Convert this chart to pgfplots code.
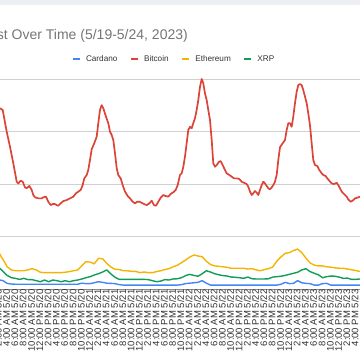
\documentclass[border=0pt]{standalone}
\usepackage{pgfplots}
\pgfplotsset{compat=1.18}
\usepackage{fontspec}
\setmainfont{Liberation Sans}
\definecolor{gblue}{HTML}{4285F4}
\definecolor{gred}{HTML}{DB4437}
\definecolor{gyellow}{HTML}{F4B400}
\definecolor{ggreen}{HTML}{0F9D58}
\definecolor{titlegray}{HTML}{757575}
\definecolor{textgray}{HTML}{333333}
\definecolor{gridgray}{HTML}{D0D0D0}
\definecolor{basegray}{HTML}{8A8A8A}
\definecolor{bandgray}{HTML}{ECEFF4}
\begin{document}
\begin{tikzpicture}
\begin{scope}
\clip (0pt,0pt) rectangle (360pt,360pt);
\fill[bandgray] (0pt,355pt) rectangle (360pt,360pt);
\node[anchor=base east, text=titlegray, font=\fontsize{14}{16}\selectfont, inner sep=0pt] at (188pt,320pt) {Interest Over Time (5/19-5/24, 2023)};
\begin{axis}[
  at={(-5.3pt,70.5pt)}, anchor=south west, scale only axis,
  width=373.5pt, height=210.5pt,
  xmin=2, xmax=92, ymin=0, ymax=100,
  axis x line*=bottom, axis y line*=left,
  x axis line style={basegray, line width=1.3pt},
  y axis line style={draw=none},
  ymajorgrids, ytick={25,50,75,100}, yticklabels={},
  grid style={gridgray, line width=0.8pt},
  major tick length=0pt,
  xtick={2,4,...,92},
  xticklabels={2:00 AM 5/20,4:00 AM 5/20,6:00 AM 5/20,8:00 AM 5/20,10:00 AM 5/20,12:00 PM 5/20,2:00 PM 5/20,4:00 PM 5/20,6:00 PM 5/20,8:00 PM 5/20,10:00 PM 5/20,
  12:00 AM 5/21,2:00 AM 5/21,4:00 AM 5/21,6:00 AM 5/21,8:00 AM 5/21,10:00 AM 5/21,12:00 PM 5/21,2:00 PM 5/21,4:00 PM 5/21,6:00 PM 5/21,8:00 PM 5/21,10:00 PM 5/21,
  12:00 AM 5/22,2:00 AM 5/22,4:00 AM 5/22,6:00 AM 5/22,8:00 AM 5/22,10:00 AM 5/22,12:00 PM 5/22,2:00 PM 5/22,4:00 PM 5/22,6:00 PM 5/22,8:00 PM 5/22,10:00 PM 5/22,
  12:00 AM 5/23,2:00 AM 5/23,4:00 AM 5/23,6:00 AM 5/23,8:00 AM 5/23,10:00 AM 5/23,12:00 PM 5/23,2:00 PM 5/23,4:00 PM 5/23,6:00 PM 5/23,8:00 PM 5/23},
  xticklabel style={rotate=90, anchor=east, inner sep=0pt, yshift=-3.5pt, font=\fontsize{9.5}{10}\selectfont, text=textgray},
  clip=false,
  legend columns=4,
  legend style={at={(0.477,1.095)}, anchor=center, draw=none, fill=none,
    font=\fontsize{8.2}{10}\selectfont, text=textgray,
    /tikz/every odd column/.style={column sep=5pt},
    /tikz/every even column/.style={column sep=12pt},
    nodes={inner sep=0pt}},
  legend image code/.code={\draw[line width=2.6pt] (0pt,0pt) -- (7pt,0pt);},
]
\addplot[gblue, line width=1.4pt, line join=round] coordinates {
(2.5,4.8)(3,4.6)(4,4.2)(5,2.9)(6,2.6)(7,2.5)(8,2.5)(9,2.5)(10,2.5)(11,2.5)(12,2.5)(13,2.5)(14,2.5)(15,2.5)(16,2.5)(17,2.5)(18,2.5)(19,2.5)(20,2.5)(21,2.5)(22,2.5)(23,3.0)(24,2.8)(25,2.8)(26,3.2)(27,3.7)(28,3.4)(29,3.0)(30,2.9)(31,2.8)(32,2.3)(33,2.1)(34,2.1)(35,2.1)(36,2.1)(37,2.1)(38,2.1)(39,2.1)(40,2.1)(41,2.1)(42,2.1)(43,2.1)(44,2.1)(45,2.1)(46,2.1)(47,2.3)(48,2.8)(49,3.0)(50,3.2)(51,3.4)(52,4.2)(53,3.0)(54,2.1)(55,2.1)(56,2.1)(57,2.1)(58,2.1)(59,2.1)(60,2.1)(61,2.1)(62,2.1)(63,2.1)(64,2.1)(65,2.1)(66,2.1)(67,2.1)(68,2.1)(69,2.1)(70,2.1)(71,2.5)(72,3.4)(73,2.8)(74,2.9)(75,4.2)(76,3.2)(77,2.9)(78,2.8)(79,2.1)(80,2.1)(81,2.8)(82,2.9)(83,2.1)(84,2.1)(85,2.1)(86,2.1)(87,2.1)(88,2.1)(89,2.1)(90,2.1)(91,2.1)};
\addlegendentry{Cardano}
\addplot[gred, line width=1.7pt, line join=round] coordinates {
(2.5,84.0)(3.28,86.1)(3.93,85.3)(4.89,75.0)(5.69,67.8)(6.48,60.0)(7.30,51.2)(7.69,50.4)(8.26,51.7)(8.75,51.2)(9.30,48.5)(9.71,48.1)(10.34,49.2)(10.91,47.3)(11.30,44.9)(11.71,43.8)(12.51,43.3)(13.33,43.3)(13.71,43.8)(14.36,44.1)(14.91,41.7)(15.49,40.1)(15.98,40.6)(16.53,40.6)(16.94,40.1)(17.32,39.8)(17.73,40.6)(18.53,42.0)(19.35,42.5)(20.14,43.3)(20.94,44.1)(21.59,45.7)(22.14,46.5)(22.72,47.3)(23.20,49.6)(23.59,52.8)(24.17,54.4)(24.55,56.8)(24.96,61.5)(25.37,66.6)(26.00,69.5)(26.58,72.6)(26.96,79.0)(27.37,85.3)(27.78,87.6)(28.17,86.1)(28.82,82.1)(29.37,79.0)(29.78,75.0)(30.19,73.4)(30.58,71.0)(30.99,64.7)(31.40,57.6)(31.78,54.4)(32.36,52.8)(32.84,49.6)(33.40,46.5)(34.05,44.4)(34.60,43.3)(35.25,41.7)(35.81,40.9)(36.36,41.7)(36.84,41.7)(37.42,41.2)(37.97,40.6)(38.63,40.1)(39.25,40.9)(39.83,42.2)(40.38,40.1)(40.87,39.8)(41.42,41.7)(42.00,43.6)(42.63,44.9)(43.20,44.4)(43.83,44.1)(44.41,45.4)(45.04,46.2)(45.61,47.3)(46.10,49.6)(46.65,54.4)(47.06,55.2)(47.45,58.3)(47.85,63.1)(48.26,69.5)(48.65,75.8)(49.06,77.3)(49.47,76.6)(49.85,79.0)(50.26,81.3)(50.67,85.3)(51.06,90.0)(51.47,96.3)(51.88,100)(52.26,98.0)(52.67,93.2)(53.08,90.0)(53.47,85.3)(53.88,80.5)(54.29,71.0)(54.67,60.0)(55.08,58.3)(55.49,59.1)(56.05,60.7)(56.46,61.0)(56.94,59.1)(57.49,56.8)(57.90,55.2)(58.53,54.4)(59.11,53.6)(59.66,52.8)(60.31,52.8)(60.94,52.5)(61.52,51.2)(62.07,50.7)(62.72,50.1)(63.11,48.8)(63.52,46.5)(63.93,44.9)(64.31,45.7)(64.72,46.8)(65.13,46.0)(65.52,44.9)(65.93,47.3)(66.34,49.6)(66.72,51.2)(67.13,50.4)(67.54,49.2)(67.93,48.1)(68.34,47.6)(68.75,48.5)(69.13,49.6)(69.54,51.2)(69.95,54.4)(70.34,61.5)(70.75,67.6)(71.40,69.5)(71.95,71.0)(72.36,75.8)(72.75,79.0)(73.15,79.0)(73.56,77.3)(73.95,82.1)(74.36,88.5)(74.77,94.0)(75.15,97.1)(75.56,97.6)(75.97,97.1)(76.36,94.8)(76.77,91.6)(77.18,88.5)(77.56,83.7)(77.97,78.1)(78.38,69.5)(78.77,61.5)(79.18,59.1)(79.73,58.7)(80.21,56.8)(80.79,55.2)(81.18,54.4)(81.76,53.9)(82.14,52.8)(82.62,51.7)(83.20,50.4)(83.76,50.1)(84.41,50.7)(84.79,49.6)(85.20,48.1)(85.61,46.5)(86.41,44.9)(86.82,44.1)(87.20,42.8)(87.78,41.7)(88.26,42.2)(88.82,43.3)(89.37,43.6)(90.02,44.1)(91,44.6)};
\addlegendentry{Bitcoin}
\addplot[gyellow, line width=1.4pt, line join=round] coordinates {
(2.5,18.5)(3,17.5)(4,14.3)(5,10.8)(6,9.3)(7,8.9)(8,8.9)(9,8.9)(10,9.3)(11,9.9)(12,9.3)(13,8.2)(14,8.0)(15,8.0)(16,8.0)(17,8.0)(18,8.0)(19,8.2)(20,8.5)(21,8.9)(22,9.3)(23,11.3)(24,13.2)(25,13.0)(26,12.2)(27,14.8)(28,14.6)(29,12.4)(30,10.7)(31,9.6)(32,9.5)(33,8.9)(34,8.9)(35,8.6)(36,8.6)(37,8.0)(38,8.3)(39,8.0)(40,8.0)(41,8.5)(42,8.9)(43,9.5)(44,9.9)(45,10.8)(46,11.5)(47,12.7)(48,14.0)(49,15.4)(50,16.4)(51,15.9)(52,15.6)(53,13.4)(54,11.9)(55,11.2)(56,11.0)(57,10.8)(58,10.5)(59,10.1)(60,10.1)(61,10.1)(62,10.1)(63,9.7)(64,9.9)(65,9.3)(66,8.9)(67,9.5)(68,9.9)(69,10.7)(70,13.5)(71,15.5)(72,17.2)(73,17.5)(74,18.5)(75,19.2)(76,17.5)(77,14.9)(78,12.6)(79,11.6)(80,11.2)(81,11.2)(82,10.8)(83,10.6)(84,10.3)(85,10.1)(86,10.1)(87,9.7)(88,9.4)(89,9.0)(90,8.6)(91,8.5)};
\addlegendentry{Ethereum}
\addplot[ggreen, line width=1.4pt, line join=round] coordinates {
(2.5,11.0)(3,10.5)(4,8.6)(5,6.7)(6,5.6)(7,5.3)(8,4.8)(9,5.3)(10,4.7)(11,4.7)(12,4.2)(13,3.7)(14,4.5)(15,3.7)(16,4.5)(17,4.2)(18,3.7)(19,4.2)(20,3.7)(21,4.2)(22,4.5)(23,5.0)(24,5.6)(25,6.1)(26,6.9)(27,7.5)(28,8.3)(29,9.3)(30,7.4)(31,5.8)(32,4.8)(33,4.8)(34,4.8)(35,4.8)(36,4.8)(37,4.8)(38,4.8)(39,4.7)(40,4.2)(41,3.7)(42,4.0)(43,4.7)(44,4.5)(45,5.0)(46,5.1)(47,5.6)(48,6.6)(49,7.2)(50,6.7)(51,6.3)(52,7.5)(53,8.9)(54,8.3)(55,7.5)(56,7.0)(57,6.6)(58,6.4)(59,5.9)(60,5.8)(61,5.6)(62,5.3)(63,5.9)(64,5.1)(65,5.0)(66,5.0)(67,5.0)(68,5.1)(69,5.9)(70,6.1)(71,6.3)(72,6.7)(73,7.2)(74,7.7)(75,8.2)(76,9.3)(77,9.9)(78,8.5)(79,7.7)(80,7.0)(81,5.6)(82,6.1)(83,6.4)(84,6.3)(85,5.9)(86,5.3)(87,5.4)(88,4.8)(89,4.8)(90,5.0)(91,5.0)};
\addlegendentry{XRP}
\end{axis}
\end{scope}
\pgfresetboundingbox
\path[use as bounding box] (0pt,0pt) rectangle (360pt,360pt);
\end{tikzpicture}
\end{document}
